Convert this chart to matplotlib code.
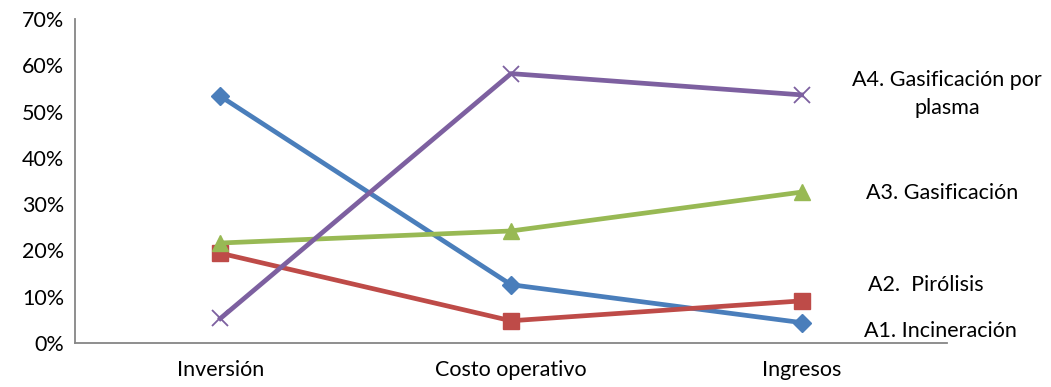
import matplotlib.pyplot as plt
from matplotlib.ticker import PercentFormatter

categories = ["Inversión", "Costo operativo", "Ingresos"]
a1 = [53.3, 12.6, 4.4]
a2 = [19.4, 4.8, 9.1]
a3 = [21.6, 24.2, 32.6]
a4 = [5.3, 58.2, 53.6]
labels = ["A1. Incineración", "A2.  Pirólisis", "A3. Gasificación", "A4. Gasificación por\nplasma"]

plt.rcParams["font.family"] = ["Lato", "DejaVu Sans"]

fig = plt.figure(figsize=(10.51, 3.87), dpi=100)
ax = fig.add_axes([0.0714, 0.1137, 0.8296, 0.8373])

x = range(len(categories))
ax.plot(x, a1, color="#4A7EBB", lw=3.4, marker="D", ms=9)
ax.plot(x, a2, color="#BE4B48", lw=3.4, marker="s", ms=11)
ax.plot(x, a3, color="#98B954", lw=3.4, marker="^", ms=12)
ax.plot(x, a4, color="#7D60A0", lw=3.4, marker="x", ms=12, mew=1.3)

ax.set_xlim(-0.5, 2.5)
ax.set_ylim(0, 70)
ax.set_yticks(range(0, 71, 10))
ax.yaxis.set_major_formatter(PercentFormatter(decimals=0))
ax.set_xticks(list(x))
ax.set_xticklabels(categories)
ax.tick_params(length=0, labelsize=15.5, pad=8)
ax.tick_params(axis="x", pad=12)
for s in ["top", "right"]:
    ax.spines[s].set_visible(False)
for s in ["left", "bottom"]:
    ax.spines[s].set_color("#868686")
    ax.spines[s].set_linewidth(1.3)

# series labels on the right
pos = [(940, 331), (926, 285), (942, 193), (947, 94)]
for lab, (px, py) in zip(labels, pos):
    fig.text(px / 1051, 1 - py / 387, lab, ha="center", va="center",
             fontsize=15.5, linespacing=1.55)

fig.savefig("out.png", dpi=100)
